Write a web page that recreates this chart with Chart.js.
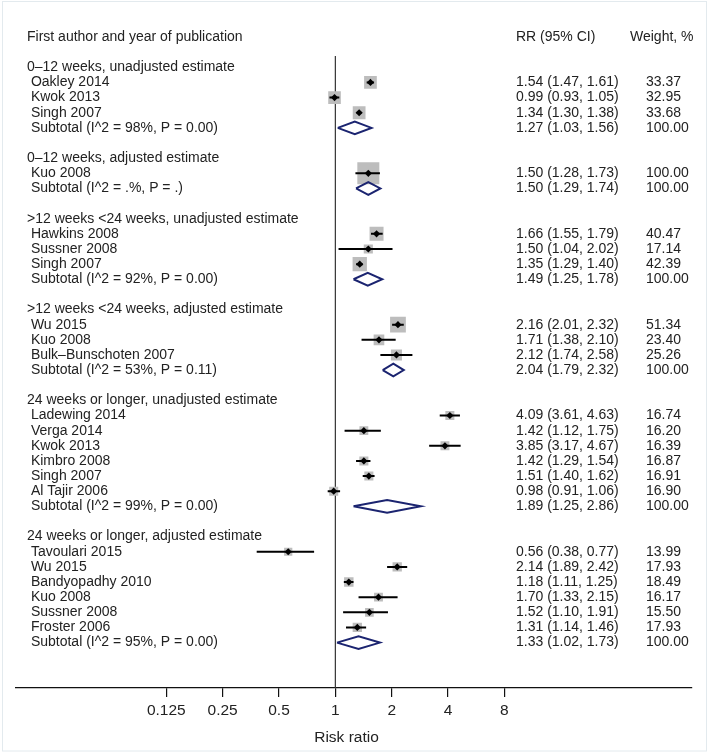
<!DOCTYPE html>
<html>
<head>
<meta charset="utf-8">
<script src="https://cdn.jsdelivr.net/npm/chart.js@4/dist/chart.umd.min.js"></script>
<style>
  html, body { margin: 0; padding: 0; background: #fff; }
  #wrap { width: 709px; height: 754px; position: relative; }
</style>
</head>
<body>
<div id="wrap"><canvas id="forest"></canvas></div>
<script>
// subgroups and their pooled estimates
var groups = [
  '0–12 weeks, unadjusted estimate',
  '0–12 weeks, adjusted estimate',
  '>12 weeks <24 weeks, unadjusted estimate',
  '>12 weeks <24 weeks, adjusted estimate',
  '24 weeks or longer, unadjusted estimate',
  '24 weeks or longer, adjusted estimate'
];
var subLabels = [
  'Subtotal (I^2 = 98%, P = 0.00)',
  'Subtotal (I^2 = .%, P = .)',
  'Subtotal (I^2 = 92%, P = 0.00)',
  'Subtotal (I^2 = 53%, P = 0.11)',
  'Subtotal (I^2 = 99%, P = 0.00)',
  'Subtotal (I^2 = 95%, P = 0.00)'
];
var subRR   = [1.27, 1.50, 1.49, 2.04, 1.89, 1.33];
var subLow  = [1.03, 1.29, 1.25, 1.79, 1.25, 1.02];
var subHigh = [1.56, 1.74, 1.78, 2.32, 2.86, 1.73];

// individual studies
var studies = [
  'Oakley 2014', 'Kwok 2013', 'Singh 2007',
  'Kuo 2008',
  'Hawkins 2008', 'Sussner 2008', 'Singh 2007',
  'Wu 2015', 'Kuo 2008', 'Bulk–Bunschoten 2007',
  'Ladewing 2014', 'Verga 2014', 'Kwok 2013', 'Kimbro 2008', 'Singh 2007', 'Al Tajir 2006',
  'Tavoulari 2015', 'Wu 2015', 'Bandyopadhy 2010', 'Kuo 2008', 'Sussner 2008', 'Froster 2006'
];
var studyGroup = [0, 0, 0, 1, 2, 2, 2, 3, 3, 3, 4, 4, 4, 4, 4, 4, 5, 5, 5, 5, 5, 5];
var rr     = [1.54, 0.99, 1.34, 1.50, 1.66, 1.50, 1.35, 2.16, 1.71, 2.12, 4.09, 1.42, 3.85, 1.42, 1.51, 0.98, 0.56, 2.14, 1.18, 1.70, 1.52, 1.31];
var low    = [1.47, 0.93, 1.30, 1.28, 1.55, 1.04, 1.29, 2.01, 1.38, 1.74, 3.61, 1.12, 3.17, 1.29, 1.40, 0.91, 0.38, 1.89, 1.11, 1.33, 1.10, 1.14];
var high   = [1.61, 1.05, 1.38, 1.73, 1.79, 2.02, 1.40, 2.32, 2.10, 2.58, 4.63, 1.75, 4.67, 1.54, 1.62, 1.06, 0.77, 2.42, 1.25, 2.15, 1.91, 1.46];
var weight = [33.37, 32.95, 33.68, 100.00, 40.47, 17.14, 42.39, 51.34, 23.40, 25.26, 16.74, 16.20, 16.39, 16.87, 16.91, 16.90, 13.99, 17.93, 18.49, 16.17, 15.50, 17.93];

var xTicks = [0.125, 0.25, 0.5, 1, 2, 4, 8];

// row numbers (0 = header)
var groupRow = [], studyRow = [], subRow = [];
var r = 2;
groups.forEach(function(g, gi) {
  groupRow[gi] = r++;
  studies.forEach(function(s, i) {
    if (studyGroup[i] === gi) studyRow[i] = r++;
  });
  subRow[gi] = r++;
  r++;
});

var ciData = [];
studies.forEach(function(s, i) {
  ciData.push({x: low[i], y: studyRow[i]}, {x: high[i], y: studyRow[i]}, {x: null, y: null});
});

var diamondData = [];
var dh = 0.42;
subRR.forEach(function(v, gi) {
  var y = subRow[gi];
  diamondData.push({x: subLow[gi], y: y}, {x: v, y: y - dh}, {x: subHigh[gi], y: y},
                   {x: v, y: y + dh}, {x: subLow[gi], y: y}, {x: null, y: null});
});

var font = '"Liberation Sans", Arial, Helvetica, sans-serif';

var textColumns = {
  id: 'textColumns',
  afterDraw: function(chart) {
    var ctx = chart.ctx;
    var yS = chart.scales.y;
    ctx.save();
    ctx.strokeStyle = '#e3eaee';
    ctx.lineWidth = 1;
    ctx.strokeRect(2.5, 1.5, 704, 749.5);

    ctx.fillStyle = '#222';
    ctx.font = '14px ' + font;
    ctx.textBaseline = 'middle';
    ctx.textAlign = 'left';
    var y0 = yS.getPixelForValue(0);
    ctx.fillText('First author and year of publication', 27, y0);
    ctx.fillText('RR (95% CI)', 516, y0);
    ctx.fillText('Weight, %', 630, y0);

    function ci(a, b, c) {
      return a.toFixed(2) + ' (' + b.toFixed(2) + ', ' + c.toFixed(2) + ')';
    }
    groups.forEach(function(g, gi) {
      ctx.fillText(g, 27, yS.getPixelForValue(groupRow[gi]));
      var ys = yS.getPixelForValue(subRow[gi]);
      ctx.fillText(' ' + subLabels[gi], 27, ys);
      ctx.fillText(ci(subRR[gi], subLow[gi], subHigh[gi]), 516, ys);
      ctx.fillText('100.00', 646, ys);
    });
    studies.forEach(function(s, i) {
      var y = yS.getPixelForValue(studyRow[i]);
      ctx.fillText(' ' + s, 27, y);
      ctx.fillText(ci(rr[i], low[i], high[i]), 516, y);
      ctx.fillText(weight[i].toFixed(2), 646, y);
    });

    // axis title
    ctx.font = '15.5px ' + font;
    ctx.textAlign = 'center';
    ctx.fillText('Risk ratio', 346.5, 738);
    ctx.restore();
  }
};

var ctx = document.getElementById('forest');
var forest = new Chart(ctx, {
  type: 'scatter',
  data: {
    datasets: [
      {
        label: 'estimate',
        data: studies.map(function(s, i) { return {x: rr[i], y: studyRow[i]}; }),
        pointStyle: 'rectRot',
        pointRadius: 3.6,
        pointBackgroundColor: '#000',
        pointBorderWidth: 0,
        order: 0
      },
      {
        label: 'ci',
        data: ciData,
        showLine: true,
        spanGaps: false,
        borderColor: '#000',
        borderWidth: 2,
        pointRadius: 0,
        order: 1
      },
      {
        label: 'subtotal',
        data: diamondData,
        showLine: true,
        spanGaps: false,
        borderColor: '#1b2470',
        borderWidth: 2,
        borderJoinStyle: 'miter',
        pointRadius: 0,
        order: 1
      },
      {
        label: 'weight',
        data: studies.map(function(s, i) { return {x: rr[i], y: studyRow[i]}; }),
        pointStyle: 'rect',
        pointRadius: weight.map(function(w) { return 22 * Math.sqrt(w / 100) / Math.SQRT2; }),
        pointBackgroundColor: '#bdbdbd',
        pointBorderWidth: 0,
        pointBorderColor: 'rgba(0,0,0,0)',
        order: 2
      },
      {
        label: 'null',
        data: [{x: 1, y: 1.25}, {x: 1, y: 43}],
        showLine: true,
        borderColor: '#333',
        borderWidth: 1.2,
        pointRadius: 0,
        order: 3
      }
    ]
  },
  options: {
    responsive: true,
    maintainAspectRatio: false,
    animation: false,
    events: [],
    layout: { padding: { left: 15, right: 17, top: 0, bottom: 0 } },
    plugins: {
      legend: { display: false },
      tooltip: { enabled: false }
    },
    scales: {
      x: {
        type: 'logarithmic',
        min: 0.01957,
        max: 80.4,
        bounds: 'data',
        afterBuildTicks: function(scale) {
          scale.ticks = xTicks.map(function(v) { return {value: v}; });
        },
        afterFit: function(scale) {
          scale.height = 66;
        },
        ticks: {
          autoSkip: false,
          maxRotation: 0,
          padding: 4,
          color: '#222',
          font: { family: font, size: 15.5 },
          callback: function(value) { return String(value); }
        },
        grid: {
          drawOnChartArea: false,
          drawTicks: true,
          tickLength: 9,
          color: '#111',
          lineWidth: 1.2
        },
        border: { display: true, color: '#111', width: 1.2 },
        title: { display: false }
      },
      y: {
        type: 'linear',
        reverse: true,
        min: -1.42,
        max: 43,
        display: false
      }
    }
  },
  plugins: [textColumns]
});
</script>
</body>
</html>
